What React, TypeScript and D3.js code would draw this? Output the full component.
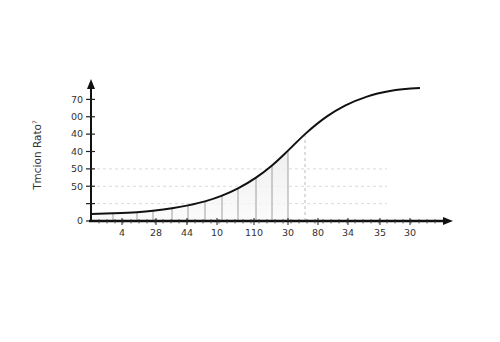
import React from "react";
import * as d3 from "d3";

// curve samples: [x unit, y unit]
const curveX = [0, 2.2, 4.6, 6.2, 8.1, 9.7, 11.4, 13.1, 14.7, 16.5, 18.1, 19.7, 21.4, 23.6, 25.4, 27.6, 29.9, 32.9];
const curveY = [0.4, 0.44, 0.51, 0.59, 0.73, 0.9, 1.13, 1.46, 1.88, 2.5, 3.2, 4.05, 5.0, 6.02, 6.64, 7.16, 7.48, 7.65];
// indices of samples that get a solid drop line, and the dashed one
const dropIdx = [0, 1, 2, 3, 4, 5, 6, 7, 8, 9, 10, 11];
const dashedIdx = 12;
// tick labels
const xLabels = ["4", "28", "44", "10", "110", "30", "80", "34", "35", "30"];
const xLabelPos = [3.1, 6.5, 9.6, 12.6, 16.3, 19.7, 22.7, 25.7, 28.9, 31.9];
const yTickVals = [0, 1, 2, 3, 4, 5, 6, 7];
const yTickLabels = ["0", "", "50", "50", "40", "40", "00", "70"];
const gridVals = [1, 2, 3];

export default function App() {
  const x = d3.scaleLinear().domain([0, 36]).range([91, 451]);
  const y = d3.scaleLinear().domain([0, 8]).range([221, 82]);
  const pts: [number, number][] = curveX.map((v, i) => [v, curveY[i]]);
  const line = d3.line<[number, number]>().x(d => x(d[0])).y(d => y(d[1])).curve(d3.curveMonotoneX);
  const areaPts = pts.slice(0, 12);
  const area = d3.area<[number, number]>().x(d => x(d[0])).y0(y(0)).y1(d => y(d[1])).curve(d3.curveMonotoneX);
  const minor = d3.range(0.8, 35, 0.8);
  const font = "DejaVu Sans, sans-serif";
  return (
    <svg width={500} height={342} style={{ position: "absolute", left: 0, top: 0, background: "#fff" }}>
      <defs>
        <linearGradient id="g" x1="0" y1="0" x2="0" y2="1">
          <stop offset="0" stopColor="#ececec" />
          <stop offset="1" stopColor="#fafafa" />
        </linearGradient>
      </defs>
      {gridVals.map(g => (
        <line key={g} x1={x(0)} x2={x(29.6)} y1={y(g)} y2={y(g)} stroke="#cfcfcf" strokeWidth={0.8} strokeDasharray="3,3" />
      ))}
      <path d={area(areaPts) || ""} fill="url(#g)" opacity={0.8} />
      {dropIdx.map(i => (
        <line key={i} x1={x(curveX[i])} x2={x(curveX[i])} y1={y(0)} y2={y(curveY[i])} stroke="#888" strokeWidth={0.8} />
      ))}
      <line x1={x(curveX[dashedIdx])} x2={x(curveX[dashedIdx])} y1={y(0)} y2={y(curveY[dashedIdx])} stroke="#aaa" strokeWidth={0.8} strokeDasharray="3,3" />
      <path d={line(pts) || ""} fill="none" stroke="#111" strokeWidth={2} />
      {/* y axis */}
      <line x1={x(0)} x2={x(0)} y1={222} y2={86} stroke="#111" strokeWidth={2} />
      <path d={`M${x(0)},79 L${x(0) - 4},89 L${x(0) + 4},89 Z`} fill="#111" />
      {yTickVals.map((v, i) => (
        <g key={v}>
          <line x1={x(0) - 5} x2={x(0) + 4} y1={y(v)} y2={y(v)} stroke="#222" strokeWidth={1.2} />
          <text x={x(0) - 8} y={y(v)} dy="0.35em" textAnchor="end" fontSize={9.5} fontFamily={font} fill="#333">{yTickLabels[i]}</text>
        </g>
      ))}
      {/* x axis */}
      <line x1={x(0) - 2} x2={445} y1={y(0)} y2={y(0)} stroke="#111" strokeWidth={2.6} />
      <path d={`M453,${y(0)} L443,${y(0) - 4} L443,${y(0) + 4} Z`} fill="#111" />
      {minor.map((u, i) => (
        <line key={i} x1={x(u)} x2={x(u)} y1={y(0) - 2} y2={y(0) + 2.5} stroke="#333" strokeWidth={0.8} />
      ))}
      {xLabelPos.map((u, i) => (
        <g key={i}>
          <line x1={x(u)} x2={x(u)} y1={y(0) - 3} y2={y(0) + 4} stroke="#222" strokeWidth={1} />
          <text x={x(u)} y={236} textAnchor="middle" fontSize={9.5} fontFamily={font} fill="#333">{xLabels[i]}</text>
        </g>
      ))}
      <text transform="translate(41,155) rotate(-90)" textAnchor="middle" fontSize={10.5} fontFamily={font} fill="#333">Tmcion Ratoˀ</text>
    </svg>
  );
}
